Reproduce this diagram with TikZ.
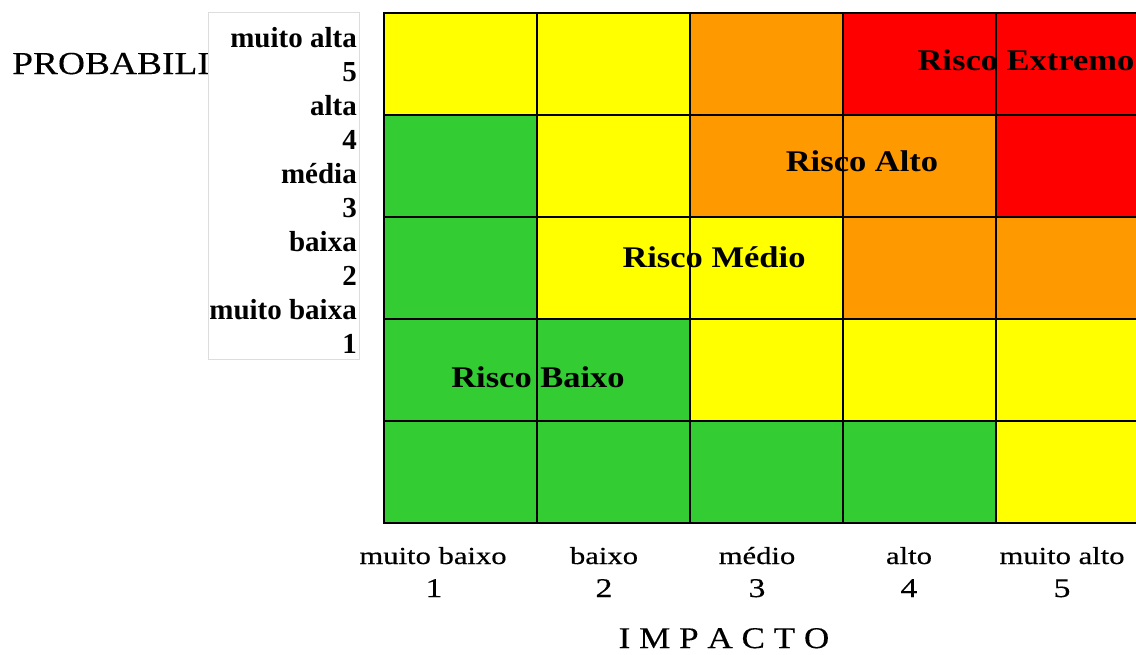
\documentclass[tikz,border=0pt]{standalone}
\usepackage{fontspec}
\setmainfont{Liberation Serif}
\newfontfamily\riskfont[FakeStretch=1.15]{Liberation Serif}
\newfontfamily\axisfont[FakeStretch=1.17,FakeBold=0.3]{Liberation Serif}
\newfontfamily\bottomfont[FakeStretch=1.25,FakeBold=0.4]{Liberation Serif}
\definecolor{ry}{HTML}{FFFF00}
\definecolor{rg}{HTML}{33CC33}
\definecolor{ro}{HTML}{FF9900}
\definecolor{rr}{HTML}{FF0000}
\definecolor{boxgray}{HTML}{DDDDDD}
\begin{document}
\begin{tikzpicture}[x=1pt,y=-1pt,
  cell/.style={draw=black, line width=2.2pt, minimum width=153pt, minimum height=102pt, inner sep=0pt, anchor=north west},
  risklabel/.style={font=\riskfont\bfseries\fontsize{30}{36}\selectfont, anchor=base, inner sep=0pt},
  problabel/.style={font=\bfseries\fontsize{29}{34}\selectfont, anchor=base east, inner sep=0pt},
  implabel/.style={font=\bottomfont\fontsize{24.5}{30}\selectfont, anchor=base, inner sep=0pt},
  impnum/.style={font=\bottomfont\fontsize{27}{32}\selectfont, anchor=base, inner sep=0pt},
  axistitle/.style={font=\axisfont\fontsize{30}{36}\selectfont, inner sep=0pt}
]
\useasboundingbox (0,0) rectangle (1136,654);
\clip (0,0) rectangle (1136,654);
\fill[white] (0,0) rectangle (1136,654);

% probability title (partly covered by the label box)
\node[axistitle, font=\axisfont\fontsize{32}{38}\selectfont, anchor=base west] (probtitle) at (12,74) {PROBABILI};

% label box
\node[draw=boxgray, line width=1pt, fill=white, minimum width=151pt, minimum height=347pt, anchor=north west, inner sep=0pt] (probbox) at (208,12) {};

% probability labels
\node[problabel] (p5a) at (357,47) {muito alta};
\node[problabel] (p5b) at (357,81) {5};
\node[problabel] (p4a) at (357,115) {alta};
\node[problabel] (p4b) at (357,149) {4};
\node[problabel] (p3a) at (357,183) {média};
\node[problabel] (p3b) at (357,217) {3};
\node[problabel] (p2a) at (357,251) {baixa};
\node[problabel] (p2b) at (357,285) {2};
\node[problabel] (p1a) at (357,319) {muito baixa};
\node[problabel] (p1b) at (357,353) {1};

% grid cells
\foreach \c/\r/\col in {1/5/ry, 2/5/ry, 3/5/ro, 4/5/rr, 5/5/rr,
                        1/4/rg, 2/4/ry, 3/4/ro, 4/4/ro, 5/4/rr,
                        1/3/rg, 2/3/ry, 3/3/ry, 4/3/ro, 5/3/ro,
                        1/2/rg, 2/2/rg, 3/2/ry, 4/2/ry, 5/2/ry,
                        1/1/rg, 2/1/rg, 3/1/rg, 4/1/rg, 5/1/ry}
  \node[cell, fill=\col] (c\c\r) at ({383+153*(\c-1)}, {12+102*(5-\r)}) {};

% risk labels
\node[risklabel] (rext) at (1026,70) {Risco Extremo};
\node[risklabel] (ralto) at (862,171) {Risco Alto};
\node[risklabel] (rmed) at (714,267) {Risco Médio};
\node[risklabel] (rbai) at (538,387) {Risco Baixo};

% impact labels
\node[implabel] (i1a) at (433,564) {muito baixo};
\node[impnum] (i1b) at (434,597) {1};
\node[implabel] (i2a) at (604,564) {baixo};
\node[impnum] (i2b) at (604,597) {2};
\node[implabel] (i3a) at (757,564) {médio};
\node[impnum] (i3b) at (757,597) {3};
\node[implabel] (i4a) at (909,564) {alto};
\node[impnum] (i4b) at (909,597) {4};
\node[implabel] (i5a) at (1062,564) {muito alto};
\node[impnum] (i5b) at (1062,597) {5};

% impact title
\node[axistitle, anchor=base] (imptitle) at (724,648) {I M P A C T O};
\end{tikzpicture}
\end{document}
